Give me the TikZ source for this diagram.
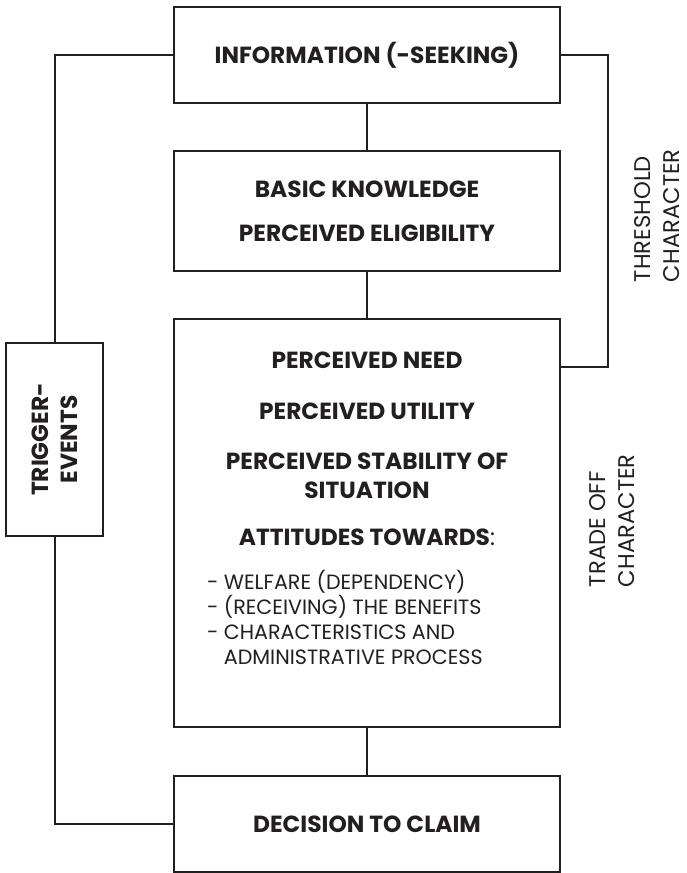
\documentclass[tikz,border=0pt]{standalone}
\usepackage{fontspec}
\setmainfont{Poppins}
\usepackage{tikz}
\usetikzlibrary{positioning}
\definecolor{ink}{HTML}{231F20}

\begin{document}
\begin{tikzpicture}[x=0.75pt,y=-0.75pt,-,auto,node distance=117pt,line width=1.5pt,color=ink]
 				 \tikzstyle{box}=[rectangle, draw=ink, fill=white, text=ink, minimum width=289.5pt, inner sep=0pt, align=center, font=\fontsize{17.5}{21.75}\selectfont\bfseries]
 				 \tikzstyle{side}=[text=ink, inner sep=0pt, rotate=90, align=left, font=\fontsize{17}{21.75}\selectfont]
						\useasboundingbox (0,0) rectangle (686,873);
						\node[box, minimum height=72pt]  (info) at (367,55) {INFORMATION (-SEEKING)};
						\node[box, minimum height=90pt] (know) [below of=info] {BASIC KNOWLEDGE\\[11.25pt]PERCEIVED ELIGIBILITY};
						\node[box, minimum height=306pt] (need) [below of=know, node distance=234pt] {};
						\node[box, minimum height=72pt] (claim) [below of=need, node distance=225.75pt] {DECISION TO CLAIM};
						% rotated box: its east side is the top
						\node[box, rotate=90, minimum width=144.75pt, minimum height=72.75pt] (trigger) at (54.5,439.5) {TRIGGER-\\EVENTS};
						\coordinate (needjoin) at (need.east |- 0,367);

						\node[text=ink, inner sep=0pt, anchor=north, align=center, font=\fontsize{17.5}{21.75}\selectfont\bfseries] (needtxt) at (367,351)
							{PERCEIVED NEED\\[16.5pt]PERCEIVED UTILITY\\[15.75pt]PERCEIVED STABILITY OF\\SITUATION\\[13.5pt]ATTITUDES TOWARDS{\mdseries:}};
						\node[text=ink, inner sep=0pt, anchor=north west, align=left, font=\fontsize{15.5}{18.75}\selectfont] (attlist) at (206,569)
							{- WELFARE (DEPENDENCY)\\- (RECEIVING) THE BENEFITS\\- CHARACTERISTICS AND\\\hphantom{- }ADMINISTRATIVE PROCESS};

						\node[side, anchor=west] (thresh) at (657,283) {THRESHOLD\\CHARACTER};
						\node[side, anchor=west] (tradeoff) at (612,588) {TRADE OFF\\CHARACTER};

						\path
							(info) edge (know)
							(know) edge (need)
							(need) edge (claim);
						\draw (info.west) -| (trigger.east);
						\draw (trigger.west) |- (claim.west);
						\draw (info.east) -- ++(47,0) |- (needjoin);

 				\end{tikzpicture}
\end{document}
